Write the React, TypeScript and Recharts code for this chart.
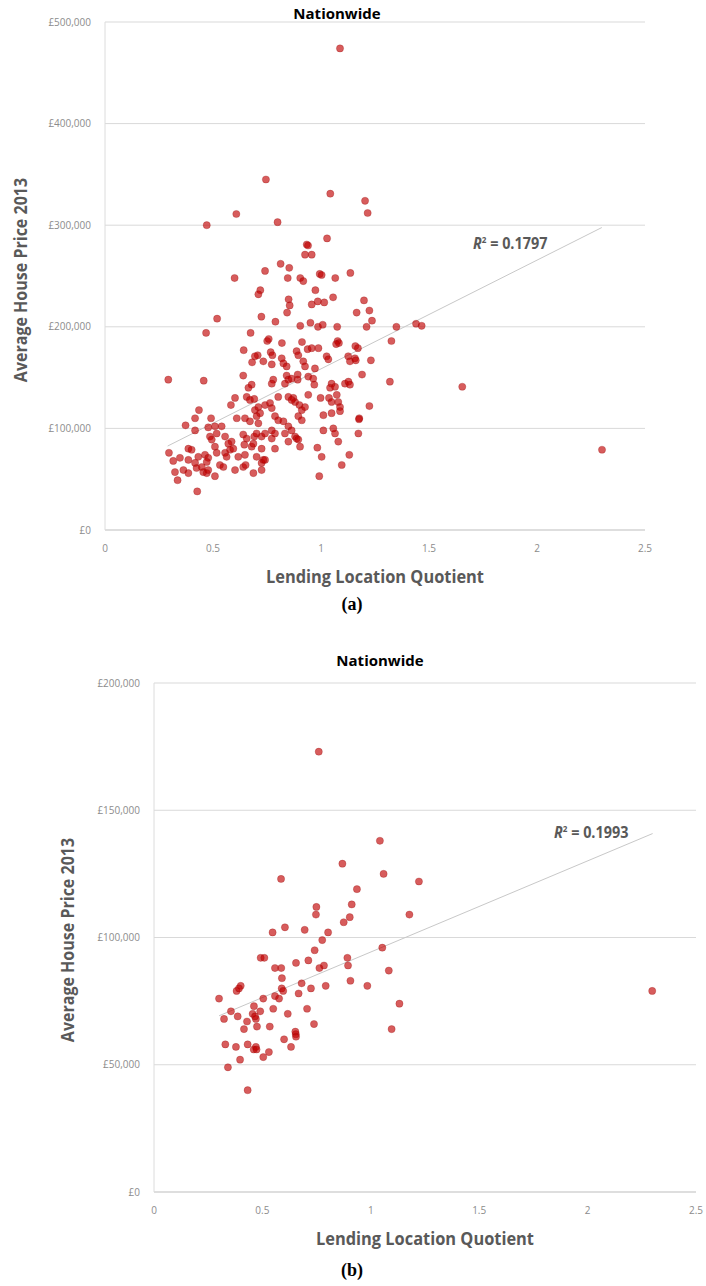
import React from "react";
import { ScatterChart, Scatter, XAxis, YAxis, CartesianGrid, ReferenceLine } from "recharts";

// [lending location quotient, average house price 2013 in £ thousands]
const pointsAll: [number, number][] = [
  [1.088, 474], [0.745, 345], [1.043, 331], [1.204, 324], [1.216, 312], [0.608, 311], [0.471, 300],
  [0.799, 303], [1.028, 287], [0.934, 281], [0.94, 280], [0.926, 271], [0.957, 271], [0.813, 262],
  [0.853, 258], [0.741, 255], [0.994, 252], [1.003, 251], [1.136, 253], [0.6, 248], [0.846, 248],
  [0.904, 248], [0.918, 245], [1.066, 248], [0.719, 236], [0.71, 232], [0.974, 236], [0.85, 227],
  [0.855, 221], [1.056, 229], [0.957, 222], [0.985, 225], [1.015, 224], [1.199, 226], [1.224, 216],
  [1.165, 214], [1.236, 206], [0.843, 214], [0.724, 210], [0.519, 208], [0.789, 205], [0.904, 201],
  [0.951, 204], [0.986, 200], [1.008, 202], [1.075, 200], [1.211, 200], [1.349, 200], [0.468, 194],
  [0.674, 194], [1.44, 203], [1.466, 201],
  [0.751, 186], [0.758, 188], [0.819, 184], [0.912, 185], [1.077, 186], [1.083, 184], [1.07, 183],
  [1.159, 181], [1.171, 179], [1.326, 186], [0.642, 177], [0.707, 172], [0.694, 171], [0.767, 175],
  [0.775, 172], [0.818, 169], [0.887, 176], [0.895, 172], [0.938, 178], [0.957, 179], [0.988, 179],
  [1.026, 171], [1.034, 168], [1.126, 171], [1.157, 169], [1.134, 166], [1.231, 167], [1.161, 167],
  [0.681, 165], [0.733, 166], [0.772, 163], [0.826, 164], [0.841, 161], [0.918, 166], [0.926, 161],
  [0.972, 159], [0.64, 152], [0.293, 148], [0.457, 147], [0.779, 148], [0.772, 144], [0.841, 152],
  [0.849, 148], [0.833, 144], [0.864, 149], [0.892, 153], [0.892, 148], [0.941, 151], [0.964, 149],
  [0.969, 143], [1.049, 144], [1.042, 140], [1.065, 141], [1.111, 144], [1.127, 146], [1.134, 143],
  [1.19, 153], [1.319, 146], [1.654, 141], [0.679, 143], [0.664, 140],
  [0.602, 130], [0.656, 131], [0.671, 128], [0.691, 129], [0.583, 123], [0.802, 131], [0.849, 131],
  [0.872, 130], [0.88, 126], [0.864, 128], [0.9, 123], [0.911, 118], [0.926, 121], [0.941, 133],
  [0.998, 130], [1.037, 130], [1.049, 126], [1.073, 133], [1.08, 126], [1.088, 121], [0.741, 123],
  [0.764, 125], [0.772, 120], [0.694, 118], [0.71, 121], [0.718, 115], [0.435, 118], [0.417, 110],
  [0.491, 110], [0.61, 110], [0.648, 110], [0.671, 107], [0.702, 112], [0.71, 105], [0.787, 112],
  [0.802, 108], [0.826, 107], [0.895, 112], [0.911, 108], [1.011, 113], [1.049, 115], [1.088, 117],
  [1.177, 110], [1.224, 122], [1.176, 109],
  [0.373, 103], [0.478, 101], [0.509, 102], [0.54, 102], [0.417, 98], [0.486, 92], [0.494, 89],
  [0.517, 95], [0.556, 92], [0.586, 87], [0.571, 85], [0.64, 94], [0.656, 90], [0.691, 92],
  [0.702, 95], [0.725, 92], [0.741, 95], [0.772, 98], [0.787, 95], [0.772, 90], [0.849, 102],
  [0.864, 98], [0.88, 92], [0.887, 90], [0.895, 89], [0.833, 95], [0.849, 87], [1.011, 98],
  [1.057, 100], [1.065, 95], [1.08, 87], [1.173, 95], [0.903, 82],
  [0.296, 76], [0.386, 80], [0.401, 79], [0.432, 72], [0.463, 74], [0.478, 71], [0.471, 67],
  [0.509, 82], [0.517, 76], [0.556, 76], [0.563, 72], [0.579, 79], [0.594, 80], [0.645, 84],
  [0.679, 82], [0.687, 85], [0.725, 80], [0.617, 72], [0.648, 74], [0.702, 72], [0.733, 69],
  [0.725, 66], [0.787, 80], [0.983, 81], [1.003, 72], [1.131, 74], [1.096, 64], [0.992, 53],
  [0.316, 68], [0.347, 71], [0.386, 69], [0.324, 57], [0.363, 59], [0.386, 56], [0.336, 49],
  [0.417, 66], [0.424, 61], [0.448, 62], [0.455, 57], [0.471, 56], [0.478, 59], [0.509, 53],
  [0.532, 64], [0.548, 62], [0.602, 59], [0.64, 62], [0.651, 64], [0.687, 56], [0.725, 59],
  [0.741, 69], [0.427, 38], [2.301, 79],
];

const pointsSubset: [number, number][] = [
  [1.042, 138], [0.869, 129], [1.059, 125], [0.586, 123], [1.222, 122], [0.936, 119], [0.749, 112],
  [0.912, 113], [0.747, 109], [1.178, 109], [0.903, 108], [0.875, 106], [0.604, 104], [0.547, 102],
  [0.695, 103], [0.803, 102], [0.776, 99], [1.053, 96], [0.741, 95], [0.492, 92], [0.509, 92],
  [0.892, 92], [0.655, 90], [0.712, 91], [0.895, 89], [0.763, 88], [0.784, 89], [0.558, 88],
  [0.587, 88], [1.083, 87], [0.59, 84], [0.906, 83], [0.681, 82], [0.984, 81], [0.4, 81],
  [0.381, 79], [0.392, 80], [0.589, 80], [0.596, 79], [0.724, 80], [0.792, 81], [0.667, 78],
  [0.3, 76], [0.504, 76], [0.558, 77], [0.577, 76], [1.132, 74], [0.355, 71], [0.461, 73],
  [0.49, 71], [0.55, 72], [0.706, 72], [0.323, 68], [0.386, 69], [0.455, 70], [0.47, 68],
  [0.466, 69], [0.617, 70], [0.429, 67], [0.475, 65], [0.738, 66], [0.415, 64], [0.534, 65],
  [1.096, 64], [0.654, 62], [0.652, 63], [0.655, 61], [0.329, 58], [0.378, 57], [0.432, 58],
  [0.46, 56], [0.47, 57], [0.473, 56], [0.6, 60], [0.632, 57], [0.53, 55], [0.397, 52],
  [0.504, 53], [0.341, 49], [0.432, 40], [2.298, 79], [0.76, 173],
];

const xTicks = [0, 0.5, 1, 1.5, 2, 2.5];
const yTicksAll = [0, 100, 200, 300, 400, 500];
const yTicksSubset = [0, 50, 100, 150, 200];

// linear trend lines (£k = intercept + slope * LQ)
const trendAll = { intercept: 51.6, slope: 107, from: 0.29, to: 2.3, r2: "0.1797" };
const trendSubset = { intercept: 58.5, slope: 35.8, from: 0.3, to: 2.3, r2: "0.1993" };

const FONT = "'Open Sans', 'DejaVu Sans', sans-serif";
const TICK = { fill: "#8c8c8c", fontSize: 10, fontFamily: FONT };

const fmtPrice = (v: number) => (v === 0 ? "£0" : `£${v},000`);

const Dot = (props: any) => (
  <circle
    cx={props.cx}
    cy={props.cy}
    r={3.6}
    fill="#c00000"
    fillOpacity={0.64}
    stroke="#900000"
    strokeOpacity={0.25}
  />
);

function Panel({ points, yTicks, trend, yAxisWidth, margin }: any) {
  const data = points.map(([lq, price]: [number, number]) => ({ lq, price }));
  const yMax = yTicks[yTicks.length - 1];
  return (
    <ScatterChart width={706} height={600} margin={margin}>
      <CartesianGrid vertical={false} stroke="#d9d9d9" />
      <XAxis
        type="number"
        dataKey="lq"
        domain={[0, 2.5]}
        ticks={xTicks}
        interval={0}
        height={30}
        tick={TICK}
        tickLine={false}
        tickSize={0}
        tickMargin={15}
        axisLine={{ stroke: "#d0d0d0" }}
      />
      <YAxis
        type="number"
        dataKey="price"
        domain={[0, yMax]}
        ticks={yTicks}
        interval={0}
        width={yAxisWidth}
        tick={TICK}
        tickFormatter={fmtPrice}
        tickLine={false}
        tickSize={0}
        tickMargin={14}
        axisLine={{ stroke: "#dcdcdc" }}
      />
      <ReferenceLine
        segment={[
          { x: trend.from, y: trend.intercept + trend.slope * trend.from },
          { x: trend.to, y: trend.intercept + trend.slope * trend.to },
        ]}
        stroke="#c8c8c8"
        strokeWidth={1}
        ifOverflow="visible"
      />
      <Scatter data={data} shape={Dot} isAnimationActive={false} />
    </ScatterChart>
  );
}

const centered = (x: number, y: number, extra: React.CSSProperties = {}): React.CSSProperties => ({
  position: "absolute",
  left: x,
  top: y,
  transform: "translate(-50%, -50%)",
  whiteSpace: "nowrap",
  ...extra,
});

const titleStyle: React.CSSProperties = {
  fontFamily: "'Open Sans', sans-serif",
  fontWeight: 700,
  fontSize: 15,
  color: "#000",
};
const axisTitleStyle: React.CSSProperties = {
  fontFamily: FONT,
  fontWeight: 700,
  fontSize: 18,
  color: "#595959",
};
const r2Style: React.CSSProperties = {
  position: "absolute",
  whiteSpace: "nowrap",
  fontFamily: FONT,
  fontWeight: 700,
  fontSize: 16,
  color: "#595959",
  transform: "translateY(-50%) scaleX(0.9)",
  transformOrigin: "left center",
};
const captionStyle: React.CSSProperties = {
  fontFamily: "'Liberation Serif', 'Times New Roman', serif",
  fontWeight: 700,
  fontSize: 18,
  color: "#000",
};

function R2({ value, x, y }: { value: string; x: number; y: number }) {
  return (
    <div style={{ ...r2Style, left: x, top: y }}>
      <i>R</i>
      <sup style={{ fontSize: 9 }}>2</sup> = {value}
    </div>
  );
}

const xTitle = (x: number, y: number) =>
  centered(x, y, { ...axisTitleStyle, transform: "translate(-50%, -50%) scaleX(0.91)" });
const yTitle = (x: number, y: number) =>
  centered(x, y, { ...axisTitleStyle, transform: "translate(-50%, -50%) rotate(-90deg) scaleX(0.89)" });

export default function App() {
  return (
    <div style={{ position: "absolute", left: 0, top: 0, width: 706, height: 1286, background: "#fff" }}>
      <div style={{ position: "absolute", left: 0, top: 0 }}>
        <Panel
          points={pointsAll}
          yTicks={yTicksAll}
          trend={trendAll}
          yAxisWidth={105}
          margin={{ top: 22, right: 61, bottom: 40, left: 0 }}
        />
      </div>
      <div style={{ position: "absolute", left: 0, top: 640 }}>
        <Panel
          points={pointsSubset}
          yTicks={yTicksSubset}
          trend={trendSubset}
          yAxisWidth={154}
          margin={{ top: 43, right: 10, bottom: 18, left: 0 }}
        />
      </div>

      <div style={centered(337, 13, titleStyle)}>Nationwide</div>
      <div style={yTitle(20, 280)}>Average House Price 2013</div>
      <div style={xTitle(375, 576)}>Lending Location Quotient</div>
      <R2 value={trendAll.r2} x={473} y={243} />
      <div style={centered(352, 604, captionStyle)}>(a)</div>

      <div style={centered(380, 660, titleStyle)}>Nationwide</div>
      <div style={yTitle(67, 940)}>Average House Price 2013</div>
      <div style={xTitle(425, 1238)}>Lending Location Quotient</div>
      <R2 value={trendSubset.r2} x={554} y={832} />
      <div style={centered(352, 1270, captionStyle)}>(b)</div>
    </div>
  );
}
